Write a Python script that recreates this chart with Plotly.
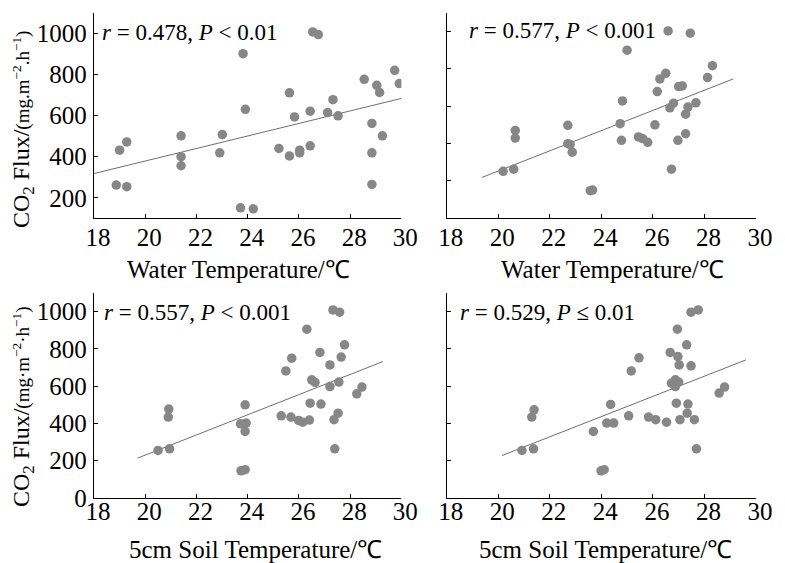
import plotly.graph_objects as go

# ---------------- data ----------------
# Panel 1: Water temperature vs CO2 flux
p1_x = [18.87, 19.0, 19.28, 19.28, 21.4, 21.4, 21.4, 22.91, 23.01, 23.72, 23.82, 23.91,
        24.22, 25.22, 25.63, 25.63, 25.83, 26.03, 26.03, 26.44, 26.44, 26.54, 26.76, 27.12,
        27.33, 27.53, 28.55, 28.85, 28.85, 28.85, 29.04, 29.15, 29.26, 29.74, 29.92]
p1_y = [262, 432, 472, 254, 502, 400, 356, 419, 508, 151, 902, 631,
        146, 440, 711, 404, 594, 432, 419, 622, 453, 1008, 995, 615,
        678, 599, 777, 562, 419, 265, 748, 713, 502, 821, 756]
p1_fit_x = [18.0, 30.0]
p1_fit_y = [318, 684]

# Panel 2: Water temperature vs CO2 flux
p2_x = [20.19, 20.6, 20.66, 20.66, 22.70, 22.70, 22.79, 22.87, 23.57, 23.66, 24.73, 24.78,
        24.82, 25.0, 25.44, 25.6, 25.8, 26.08, 26.17, 26.27, 26.5, 26.59, 26.66, 26.72,
        26.8, 26.97, 27.0, 27.14, 27.27, 27.27, 27.36, 27.45, 27.67, 28.12, 28.31]
p2_y = [252, 263, 471, 430, 498, 400, 396, 354, 148, 151, 507, 418,
        629, 901, 436, 427, 407, 501, 679, 747, 777, 1004, 592, 263,
        617, 418, 706, 709, 558, 453, 596, 992, 619, 754, 818]
p2_fit_x = [19.37, 29.12]
p2_fit_y = [219, 747]

# Panel 3: 5cm soil temperature vs CO2 flux
p3_x = [20.5, 20.9, 20.92, 20.95, 23.72, 23.74, 23.9, 23.9, 23.9, 23.94, 25.31, 25.49,
        25.69, 25.72, 25.99, 26.15, 26.31, 26.41, 26.44, 26.5, 26.63, 26.82, 26.86, 27.21,
        27.21, 27.33, 27.37, 27.40, 27.53, 27.56, 27.59, 27.65, 27.78, 28.26, 28.46]
p3_y = [255, 434, 477, 264, 398, 146, 500, 357, 152, 402, 441, 682,
        434, 750, 416, 407, 906, 418, 509, 634, 620, 781, 504, 714,
        598, 1009, 420, 264, 455, 622, 997, 756, 822, 559, 595]
p3_fit_x = [19.70, 29.28]
p3_fit_y = [214, 732]

# Panel 4: 5cm soil temperature vs CO2 flux
p4_x = [20.92, 21.3, 21.39, 21.37, 23.69, 23.99, 24.11, 24.21, 24.36, 24.48, 25.06, 25.16,
        25.46, 25.83, 26.11, 26.53, 26.67, 26.72, 26.82, 26.87, 26.87, 26.91, 26.95, 26.97,
        27.0, 27.02, 27.05, 27.31, 27.33, 27.36, 27.48, 27.48, 27.61, 27.69, 27.76, 28.57, 28.78]
p4_y = [255, 434, 473, 264, 357, 146, 152, 402, 502, 402, 441, 682,
        752, 434, 420, 407, 781, 616, 620, 598, 634, 509, 906, 759,
        622, 714, 420, 822, 455, 504, 997, 709, 420, 264, 1009, 563, 595]
p4_fit_x = [20.15, 29.61]
p4_fit_y = [228, 741]

x_tick_vals = [18, 20, 22, 24, 26, 28, 30]
y_tick_vals = [0, 200, 400, 600, 800, 1000]

stat_texts = ["<i>r</i> = 0.478, <i>P</i> < 0.01",
              "<i>r</i> = 0.577, <i>P</i> < 0.001",
              "<i>r</i> = 0.557, <i>P</i> < 0.001",
              "<i>r</i> = 0.529, <i>P</i> ≤ 0.01"]
x_titles = ["Water Temperature/℃", "Water Temperature/℃",
            "5cm Soil Temperature/℃", "5cm Soil Temperature/℃"]
y_title_top = "CO<sub>2</sub> Flux/<span style='font-size:19px'>(mg.m<sup>−2</sup>.h<sup>−1</sup>)</span>"
y_title_bot = "CO<sub>2</sub> Flux/<span style='font-size:19px'>(mg·m<sup>−2</sup>·h<sup>−1</sup>)</span>"

# ---------------- figure ----------------
FONT = "Liberation Serif"
W, H = 785, 563
ML, MR, MT, MB = 94, 19, 13, 65
PW, PH = W - ML - MR, H - MT - MB


def px_to_paper(px, py):
    return (px - ML) / PW, (H - MB - py) / PH


MARKER = dict(color="#878787", size=9.5)
LINE = dict(color="#6e6e6e", width=1)

fig = go.Figure()
panels = [(p1_x, p1_y, p1_fit_x, p1_fit_y),
          (p2_x, p2_y, p2_fit_x, p2_fit_y),
          (p3_x, p3_y, p3_fit_x, p3_fit_y),
          (p4_x, p4_y, p4_fit_x, p4_fit_y)]
for i, (xs, ys, fx, fy) in enumerate(panels):
    suf = "" if i == 0 else str(i + 1)
    fig.add_trace(go.Scatter(x=fx, y=fy, mode="lines", line=LINE,
                             xaxis="x" + suf, yaxis="y" + suf, showlegend=False,
                             hoverinfo="skip"))
    fig.add_trace(go.Scatter(x=xs, y=ys, mode="markers", marker=MARKER,
                             xaxis="x" + suf, yaxis="y" + suf, showlegend=False))

left_dom = [0, (406 - ML) / PW]
right_dom = [(452 - ML) / PW, 1]
top_dom = [(H - MB - 218.3) / PH, 1]
bot_dom = [0, (H - MB - 293) / PH]

x_doms = [left_dom, right_dom, left_dom, right_dom]
y_doms = [top_dom, top_dom, bot_dom, bot_dom]
y_ranges = [[100, 1100], [0, 1100], [0, 1100], [0, 1100]]
for i in range(4):
    suf = "" if i == 0 else str(i + 1)
    xa = dict(showline=True, linecolor="black", linewidth=1.3,
              ticks="inside", ticklen=4, tickwidth=1, tickcolor="black",
              showgrid=False, zeroline=False,
              tickfont=dict(family=FONT, size=25, color="black"),
              domain=x_doms[i], range=[18, 30], tickvals=x_tick_vals,
              anchor="y" + suf, ticklabelshift=4,
              ticklabelstandoff=-3 if i < 2 else -9)
    ya = dict(showline=True, linecolor="black", linewidth=1.3,
              ticks="inside", ticklen=4, tickwidth=1, tickcolor="black",
              showgrid=False, zeroline=False,
              tickfont=dict(family=FONT, size=25, color="black"),
              domain=y_doms[i], range=y_ranges[i],
              tickvals=[v for v in y_tick_vals if v >= y_ranges[i][0]],
              anchor="x" + suf, showticklabels=(i % 2 == 0), ticklabelstandoff=1)
    fig.update_layout(**{"xaxis" + suf: xa, "yaxis" + suf: ya})

annotations = []
# statistics
stat_pos = [(100, 33), (473, 31), (102, 312), (463, 312)]
for t, (px, py) in zip(stat_texts, stat_pos):
    xp, yp = px_to_paper(px, py)
    annotations.append(dict(text=t, x=xp, y=yp, xref="paper", yref="paper",
                            xanchor="left", yanchor="middle", showarrow=False,
                            font=dict(family=FONT, size=23, color="black")))
# x titles
xt_pos = [(241, 269), (620, 269), (258, 549), (613, 549)]
for t, (px, py) in zip(x_titles, xt_pos):
    xp, yp = px_to_paper(px, py)
    annotations.append(dict(text=t, x=xp, y=yp, xref="paper", yref="paper",
                            xanchor="center", yanchor="middle", showarrow=False,
                            font=dict(family=FONT, size=25, color="black")))
# y titles
for t, (px, py) in [(y_title_top, (22, 130)), (y_title_bot, (22, 407))]:
    xp, yp = px_to_paper(px, py)
    annotations.append(dict(text=t, x=xp, y=yp, xref="paper", yref="paper",
                            xanchor="center", yanchor="middle", showarrow=False,
                            textangle=-90,
                            font=dict(family=FONT, size=24, color="black")))

fig.update_layout(width=W, height=H, margin=dict(l=ML, r=MR, t=MT, b=MB),
                  paper_bgcolor="white", plot_bgcolor="white",
                  annotations=annotations, showlegend=False,
                  font=dict(family=FONT, size=24, color="black"))

fig.write_html("out.html", config={"displayModeBar": False},
               post_script="document.body.style.margin='0';document.body.style.padding='0';")
